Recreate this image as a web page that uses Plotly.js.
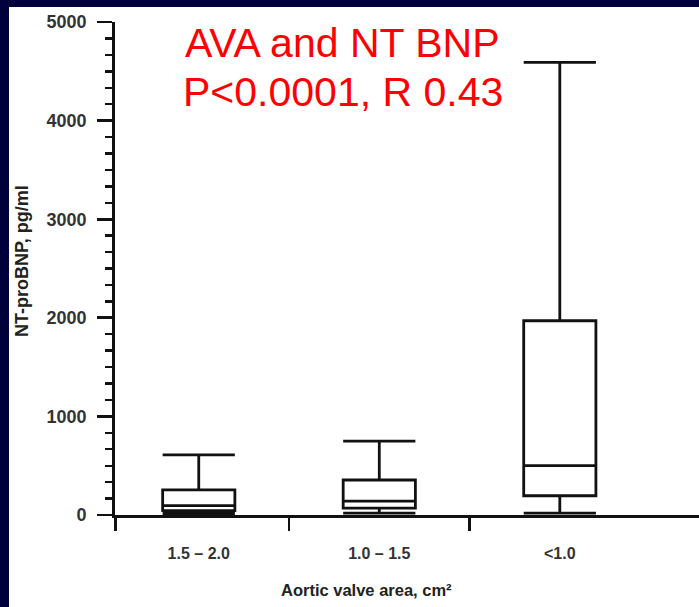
<!DOCTYPE html>
<html>
<head>
<meta charset="utf-8">
<script src="https://cdn.plot.ly/plotly-3.0.1.min.js"></script>
<style>
  html, body { margin: 0; padding: 0; background: #00003a; width: 699px; height: 607px; overflow: hidden; }
  #chart { position: absolute; left: 9px; top: 7px; width: 690px; height: 600px; background: #fff; }
</style>
</head>
<body>
<div id="chart"></div>
<script>
// Data (NT-proBNP, pg/ml by aortic valve area)
const categories   = ["1.5 – 2.0", "1.0 – 1.5", "<1.0"];
const lowerFence   = [15, 20, 20];
const q1Values     = [45, 70, 195];
const medianValues = [95, 140, 500];
const q3Values     = [255, 355, 1970];
const upperFence   = [610, 750, 4590];
const yTickVals    = [0, 1000, 2000, 3000, 4000, 5000];

const boxTrace = {
  type: "box",
  x: categories,
  q1: q1Values,
  median: medianValues,
  q3: q3Values,
  lowerfence: lowerFence,
  upperfence: upperFence,
  width: 0.4,
  whiskerwidth: 1,
  fillcolor: "#ffffff",
  line: { color: "#111111", width: 2.8 },
  boxpoints: false,
  hoverinfo: "skip",
  showlegend: false
};

// empty helper trace so the boundary-tick axis gets drawn
const tickAxisTrace = {
  type: "scatter", mode: "markers", x: [], y: [],
  xaxis: "x2", yaxis: "y", hoverinfo: "skip", showlegend: false
};

const xr = [-0.464, 2.771];
const layout = {
  width: 690, height: 600,
  margin: { l: 106, r: 0, t: 15, b: 92 },
  paper_bgcolor: "#ffffff",
  plot_bgcolor: "#ffffff",
  showlegend: false,
  xaxis: {
    type: "category",
    range: xr,
    showline: true, linecolor: "#111111", linewidth: 2.8,
    showgrid: false, zeroline: false,
    ticks: "",
    ticklabelstandoff: 22,
    tickfont: { family: "Arial, Liberation Sans, sans-serif", size: 16, color: "#333333", weight: "bold" }
  },
  xaxis2: {
    type: "linear",
    overlaying: "x",
    anchor: "y",
    side: "bottom",
    range: xr,
    tickvals: [-0.46, 0.5, 1.5],
    ticks: "outside", ticklen: 15, tickwidth: 2.8, tickcolor: "#111111",
    showticklabels: false, showline: false, showgrid: false, zeroline: false
  },
  yaxis: {
    range: [0, 5000],
    tickvals: yTickVals,
    ticktext: yTickVals.map(String),
    showline: true, linecolor: "#111111", linewidth: 2.8,
    showgrid: false, zeroline: false,
    ticks: "outside", ticklen: 15, tickwidth: 2.8, tickcolor: "#111111",
    ticklabelstandoff: 7,
    minor: { dtick: 1000 / 6, tick0: 0, ticks: "outside", ticklen: 7, tickwidth: 2.4, tickcolor: "#111111", showgrid: false },
    tickfont: { family: "Arial, Liberation Sans, sans-serif", size: 18, color: "#333333", weight: "bold" }
  },
  annotations: [
    { text: "AVA and NT BNP", xref: "paper", yref: "paper", x: 0.3904, y: 0.9564,
      xanchor: "center", yanchor: "middle", showarrow: false,
      font: { family: "Arial, Liberation Sans, sans-serif", size: 41, color: "#ff0000" } },
    { text: "P<0.0001, R 0.43", xref: "paper", yref: "paper", x: 0.3904, y: 0.859,
      xanchor: "center", yanchor: "middle", showarrow: false,
      font: { family: "Arial, Liberation Sans, sans-serif", size: 41, color: "#ff0000" } },
    { text: "Aortic valve area, cm²", xref: "paper", yref: "paper", x: 0.4315, y: -0.152,
      xanchor: "center", yanchor: "middle", showarrow: false,
      font: { family: "Arial, Liberation Sans, sans-serif", size: 16.5, color: "#222222", weight: "bold" } },
    { text: "NT-proBNP, pg/ml", xref: "paper", yref: "paper", x: -0.1595, y: 0.515,
      xanchor: "center", yanchor: "middle", showarrow: false, textangle: -90,
      font: { family: "Arial, Liberation Sans, sans-serif", size: 18, color: "#222222", weight: "bold" } }
  ]
};

Plotly.newPlot("chart", [boxTrace, tickAxisTrace], layout, { displayModeBar: false, staticPlot: true });
</script>
</body>
</html>
